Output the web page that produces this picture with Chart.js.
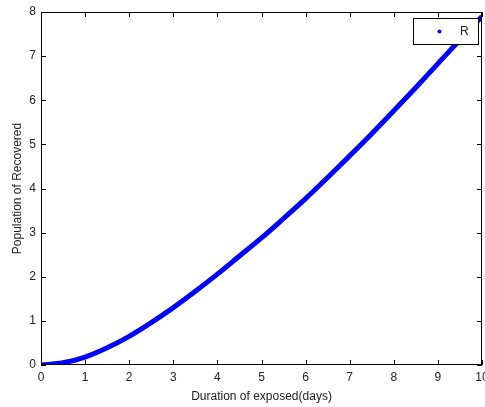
<!DOCTYPE html>
<html>
<head>
<meta charset="utf-8">
<script src="https://cdn.jsdelivr.net/npm/chart.js@4/dist/chart.umd.min.js"></script>
<style>
  html, body { margin: 0; padding: 0; background: #fff; }
  #wrap { width: 485px; height: 407px; }
</style>
</head>
<body>
<div id="wrap"><canvas class="js-chart"></canvas></div>
<script>
const days = [0, 0.5, 1, 1.5, 2, 2.5, 3, 3.5, 4, 4.5, 5, 5.5, 6, 6.5, 7, 7.5, 8, 8.5, 9, 9.5, 10];
const recovered = [0, 0.05, 0.18, 0.39, 0.65, 0.96, 1.3, 1.67, 2.06, 2.47, 2.88, 3.32, 3.77, 4.25, 4.74, 5.24, 5.76, 6.29, 6.83, 7.37, 7.9];
const xTicks = [0, 1, 2, 3, 4, 5, 6, 7, 8, 9, 10];
const yTicks = [0, 1, 2, 3, 4, 5, 6, 7, 8];

const ctx = document.querySelector('.js-chart').getContext('2d');
const FONT = { family: 'Liberation Sans, Arial, sans-serif', size: 12 };
const TEXT = '#222';

// matlab style box with ticks pointing inward
const boxTicks = {
    id: 'boxTicks',
    afterDraw(chart) {
        const { ctx, chartArea: a, scales } = chart;
        ctx.save();
        ctx.strokeStyle = '#000';
        ctx.lineWidth = 1;
        ctx.strokeRect(a.left + 0.5, a.top + 0.5, a.right - a.left - 1, a.bottom - a.top - 1);
        ctx.beginPath();
        xTicks.forEach(v => {
            const px = Math.round(scales.x.getPixelForValue(v)) + 0.5;
            ctx.moveTo(px, a.bottom);
            ctx.lineTo(px, a.bottom - 5);
            ctx.moveTo(px, a.top);
            ctx.lineTo(px, a.top + 5);
        });
        yTicks.forEach(v => {
            const py = Math.round(scales.y.getPixelForValue(v)) + 0.5;
            ctx.moveTo(a.left, py);
            ctx.lineTo(a.left + 5, py);
            ctx.moveTo(a.right, py);
            ctx.lineTo(a.right - 5, py);
        });
        ctx.stroke();
        ctx.restore();
    },
};

const legendBox = {
    id: 'legendBox',
    afterDraw(chart) {
        const { ctx } = chart;
        const ds = chart.data.datasets[0];
        ctx.save();
        ctx.fillStyle = '#fff';
        ctx.fillRect(413, 18, 65, 26);
        ctx.strokeStyle = '#000';
        ctx.lineWidth = 1;
        ctx.strokeRect(413.5, 18.5, 65, 26);
        ctx.fillStyle = ds.borderColor;
        ctx.beginPath();
        ctx.arc(439.5, 31.5, 2, 0, Math.PI * 2);
        ctx.fill();
        ctx.fillStyle = TEXT;
        ctx.font = '12px ' + FONT.family;
        ctx.textBaseline = 'middle';
        ctx.fillText(ds.label, 460, 32);
        ctx.restore();
    },
};

new Chart(ctx, {
    type: 'line',
    data: {
        datasets: [
            {
                label: 'R',
                data: days.map((d, i) => ({ x: d, y: recovered[i] })),
                borderColor: '#0000ff',
                borderWidth: 5,
                pointRadius: 0,
                cubicInterpolationMode: 'monotone',
            },
        ],
    },
    options: {
        responsive: true,
        maintainAspectRatio: false,
        animation: false,
        layout: { padding: { top: 12, right: 3, left: 0, bottom: 0 } },
        plugins: { legend: { display: false }, tooltip: { enabled: false } },
        scales: {
            x: {
                type: 'linear',
                min: 0,
                max: 10,
                afterBuildTicks(scale) {
                    scale.ticks = xTicks.map(v => ({ value: v }));
                },
                afterFit(scale) {
                    scale.height = 42;
                    scale.paddingLeft = 0;
                    scale.paddingRight = 0;
                },
                grid: { display: false, drawTicks: false },
                border: { display: false },
                ticks: { color: TEXT, font: FONT, padding: 5, maxRotation: 0, autoSkip: false },
                title: {
                    display: true,
                    text: 'Duration of exposed(days)',
                    color: TEXT,
                    font: FONT,
                    padding: { top: 0, bottom: 3 },
                },
            },
            y: {
                min: 0,
                max: 8,
                afterBuildTicks(scale) {
                    scale.ticks = yTicks.map(v => ({ value: v }));
                },
                afterFit(scale) {
                    scale.width = 41;
                    scale.paddingTop = 0;
                    scale.paddingBottom = 0;
                },
                grid: { display: false, drawTicks: false },
                border: { display: false },
                ticks: { color: TEXT, font: FONT, padding: 5 },
                title: {
                    display: true,
                    text: 'Population of Recovered',
                    color: TEXT,
                    font: FONT,
                    padding: { top: 10, bottom: 0 },
                },
            },
        },
    },
    plugins: [boxTicks, legendBox],
});
</script>
</body>
</html>
